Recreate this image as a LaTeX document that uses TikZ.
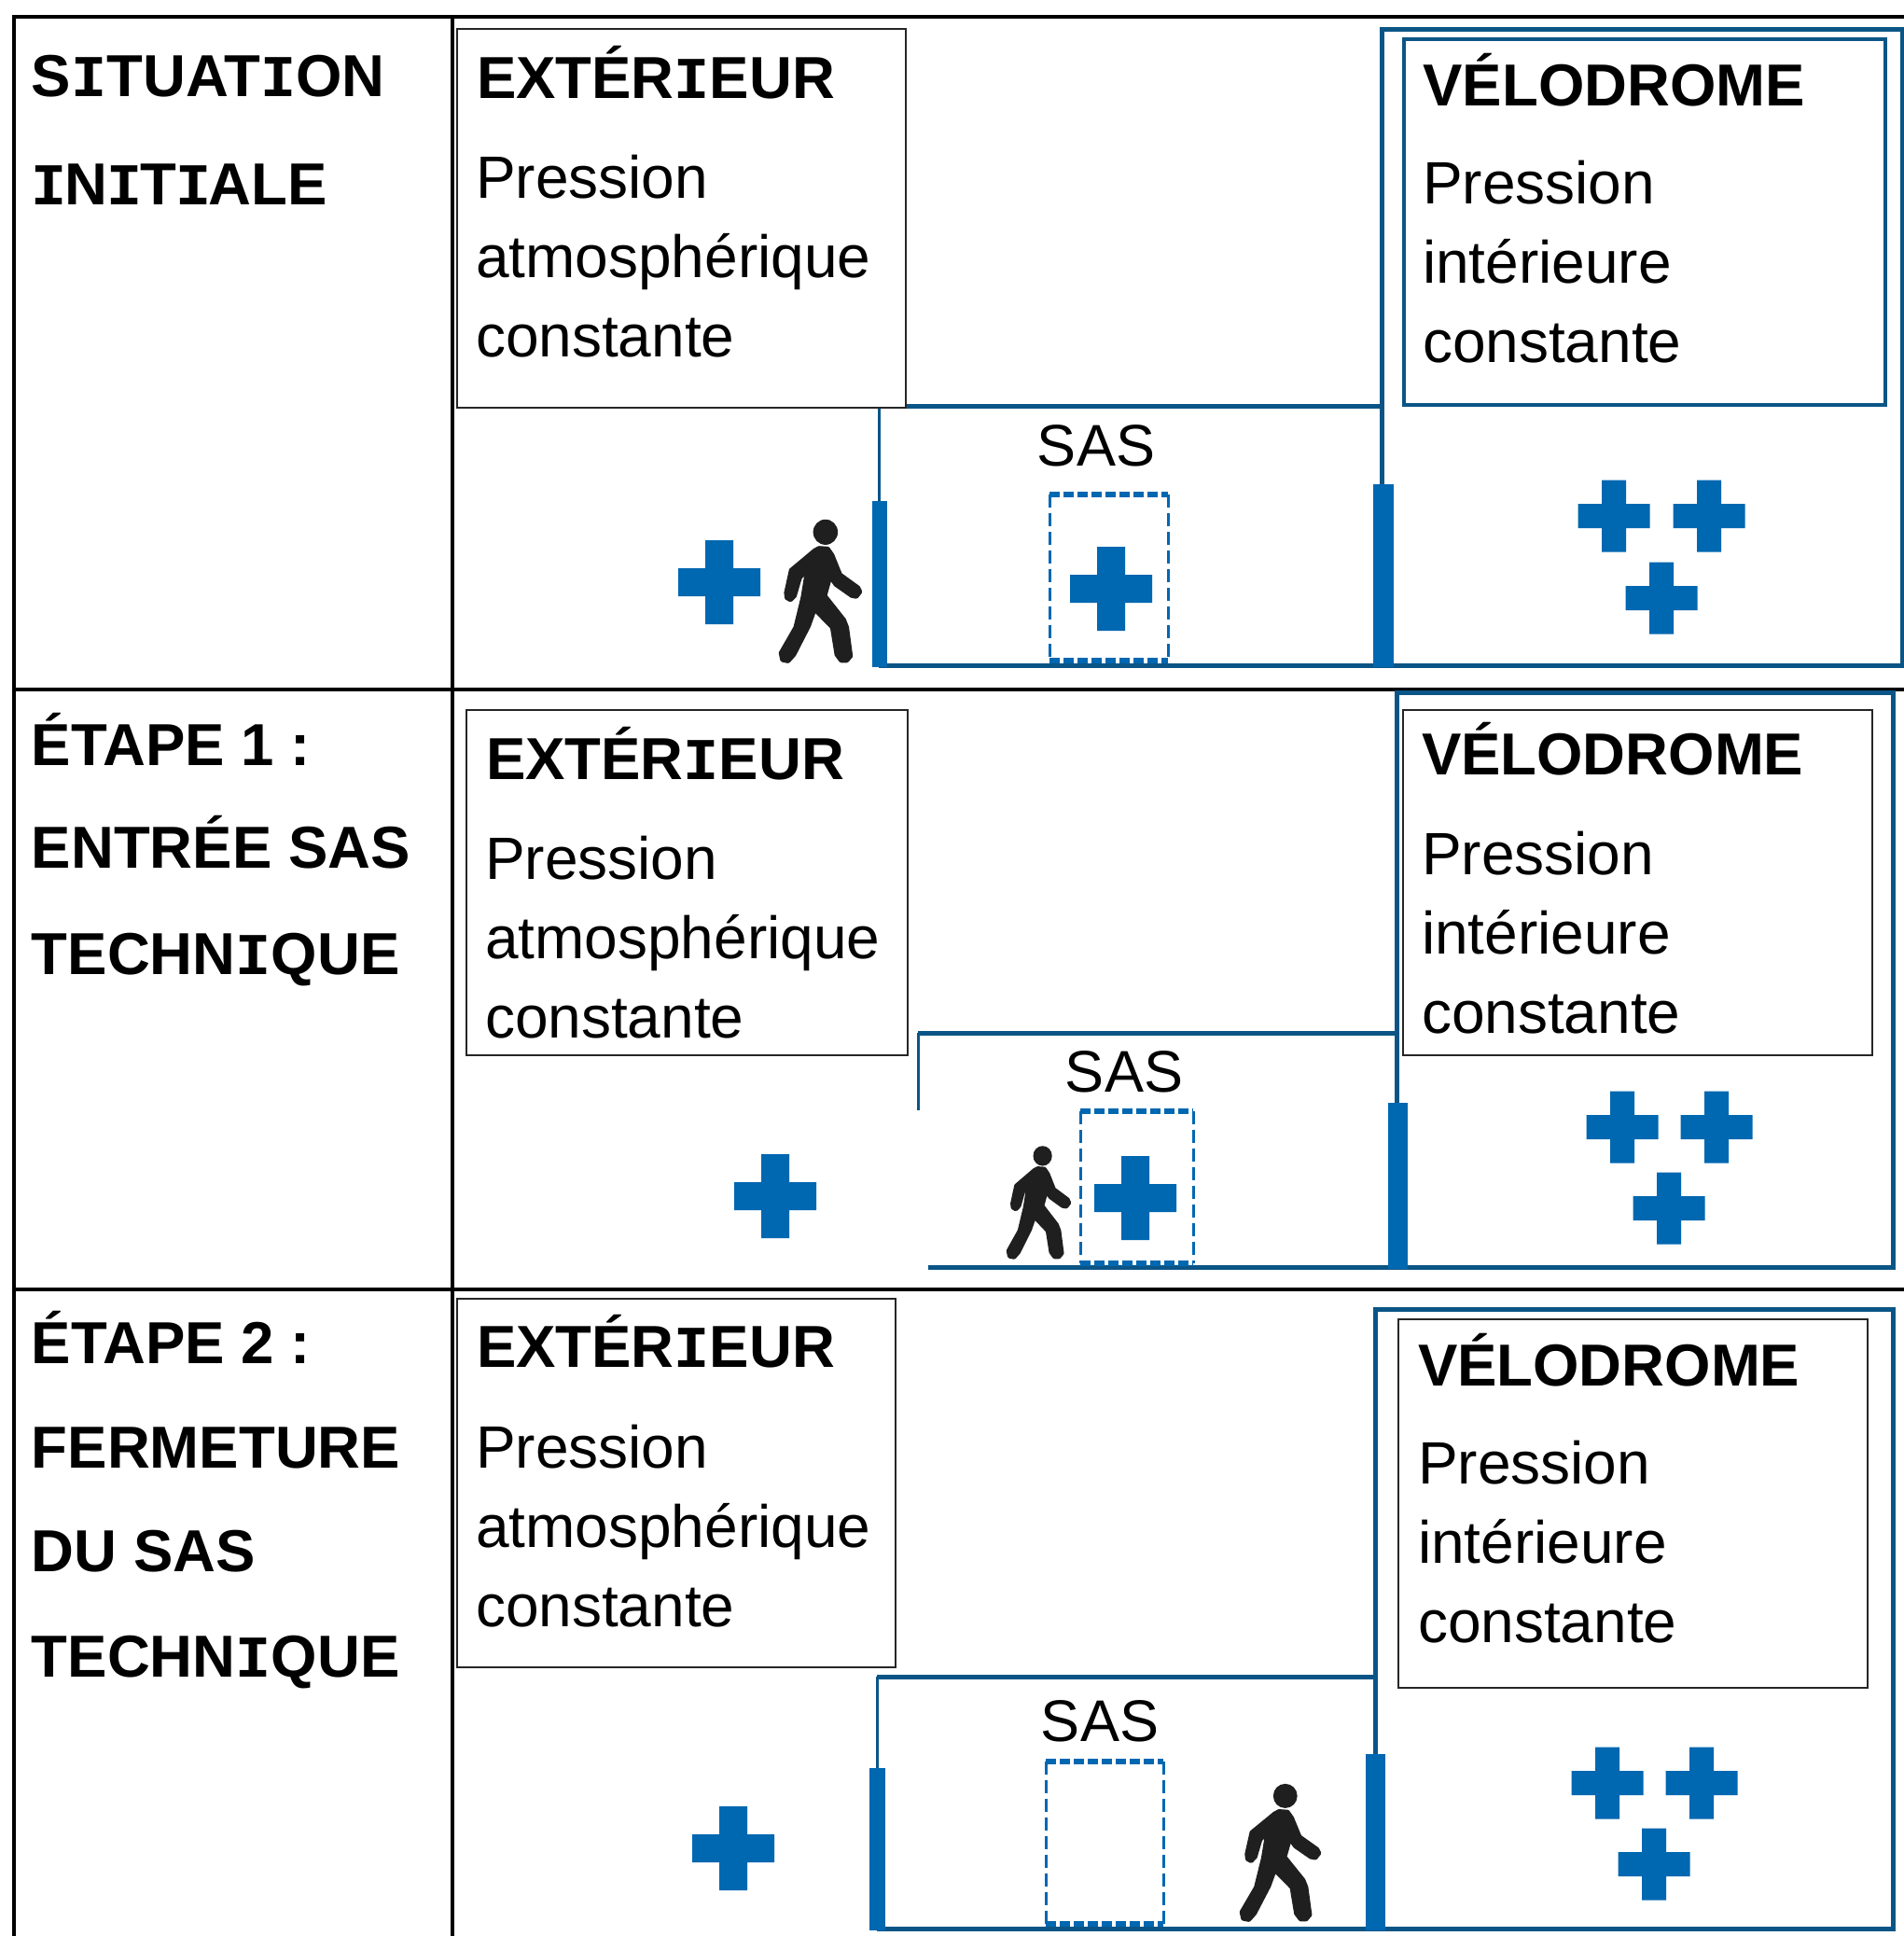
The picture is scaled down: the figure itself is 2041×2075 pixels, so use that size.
\documentclass[tikz,border=0pt]{standalone}
\usepackage{fontspec}
\setmainfont{Liberation Sans}
\newfontfamily\monof{Liberation Mono}
\definecolor{doorblue}{HTML}{0067B1}
\definecolor{wallblue}{HTML}{0B5586}
\newcommand\sI{{\monof\bfseries I}}
\tikzset{
  txt/.style={inner sep=0pt,outer sep=0pt,anchor=base west,text=black},
  headtxt/.style={txt,font=\fontsize{63.5}{64}\selectfont\bfseries},
  bodytxt/.style={txt,font=\fontsize{64}{85}\selectfont},
  sastxt/.style={inner sep=0pt,outer sep=0pt,anchor=base,font=\fontsize{63}{63}\selectfont},
  grid/.style={draw=black,line width=4.5pt},
  thinbox/.style={draw=black!85,line width=2pt,fill=white,inner sep=0pt,outer sep=0pt,anchor=north west},
  wall/.style={draw=wallblue,line width=5pt},
  thinwall/.style={draw=wallblue,line width=3pt},
  door/.style={fill=doorblue},
}
\newcommand\bigcross[2]{\fill[doorblue] (#1-15,#2-45) -- (#1+15,#2-45) -- (#1+15,#2-15) -- (#1+44,#2-15) -- (#1+44,#2+15) -- (#1+15,#2+15) -- (#1+15,#2+45) -- (#1-15,#2+45) -- (#1-15,#2+15) -- (#1-44,#2+15) -- (#1-44,#2-15) -- (#1-15,#2-15) -- cycle;}
\newcommand\smallcross[2]{\fill[doorblue] (#1-13,#2-38.5) -- (#1+13,#2-38.5) -- (#1+13,#2-13) -- (#1+38.5,#2-13) -- (#1+38.5,#2+13) -- (#1+13,#2+13) -- (#1+13,#2+38.5) -- (#1-13,#2+38.5) -- (#1-13,#2+13) -- (#1-38.5,#2+13) -- (#1-38.5,#2-13) -- (#1-13,#2-13) -- cycle;}
% walker: xmin ymin width height
\newcommand\walker[4]{\begin{scope}[shift={(#1+2,#2+2)},xscale=(#3-4)/270,yscale=(#4-4)/461,shift={(-75,-49)}]
\fill[black!88] (227,84) ellipse [x radius=42,y radius=42];
\filldraw[black!88,line width=4.5pt,line join=round] (205,137) -- (235,139) -- (250,160) -- (277,225) -- (338,268) -- (345,282) -- (332,298) -- (316,295) -- (262,258) -- (243,232) -- (225,295) -- (290,375) -- (300,400) -- (313,495) -- (300,510) -- (280,510) -- (265,490) -- (250,400) -- (190,340) -- (170,395) -- (120,490) -- (100,512) -- (80,508) -- (75,485) -- (125,400) -- (150,300) -- (165,210) -- (140,235) -- (122,295) -- (108,309) -- (95,302) -- (93,285) -- (110,210) -- (190,145) -- cycle;
\end{scope}}
% dashed cell: x0 y0 x1 y1
\newcommand\dashcell[4]{
\draw[doorblue,line width=3pt,dash pattern=on 14pt off 6pt] (#1,#2) -- (#1,#4);
\draw[doorblue,line width=3pt,dash pattern=on 14pt off 6pt] (#3,#2) -- (#3,#4);
\draw[doorblue,line width=5.5pt,dash pattern=on 11pt off 4pt] (#1,#2) -- (#3,#2);
\draw[doorblue,line width=6pt,dash pattern=on 11pt off 4pt] (#1,#4) -- (#3,#4);
}
\begin{document}
\begin{tikzpicture}[x=1pt,y=-1pt]
\useasboundingbox[fill=white] (0,0) rectangle (2041,2075);

% table rules
\draw[grid] (15,2075) -- (15,18) -- (2041,18);
\draw[grid] (485,18) -- (485,2075);
\draw[grid] (15,739) -- (2041,739);
\draw[grid] (15,1382) -- (2041,1382);

% left column
\node[headtxt] (h1) at (34,103) {\vtop{\baselineskip=116pt\hbox{S\sI TUAT\sI ON}\hbox{\sI\kern-3pt N\sI\kern-3pt T\sI\kern-3pt ALE}}};
\node[headtxt] (h2) at (34,820) {\vtop{\baselineskip=112pt\hbox{ÉTAPE 1 :}\kern-2pt\hbox{ENTRÉE SAS}\kern2pt\hbox{TECHN\sI QUE}}};
\node[headtxt] (h3) at (34,1461.5) {\vtop{\baselineskip=112pt\hbox{ÉTAPE 2 :}\hbox{FERMETURE}\kern-1pt\hbox{DU SAS}\kern1pt\hbox{TECHN\sI QUE}}};

% ---- panel 1
\draw[wall] (1481,519) -- (1481,31) -- (2039,31) -- (2039,713) -- (942,713);
\draw[wall] (942,435) -- (1481,435);
\draw[thinwall] (942,435) -- (942,537);
\fill[door] (935,537) rectangle (951,715);
\fill[door] (1472,519) rectangle (1494,715);
\node[thinbox,minimum width=481pt,minimum height=406pt] (ext1) at (489.5,31) {};
\draw[draw=wallblue,line width=4pt] (1505,42) rectangle (2021,434);
\node[headtxt] (ext1t) at (511,105) {EXTÉR\sI EUR};
\node[bodytxt] (ext1b) at (510,212) {\vtop{\hbox{Pression}\hbox{atmosphérique}\hbox{constante}}};
\node[headtxt] (vel1t) at (1525.5,113) {VÉLODROME};
\node[bodytxt] (vel1b) at (1525,218.5) {\vtop{\hbox{Pression}\hbox{intérieure}\hbox{constante}}};
\node[sastxt] (sas1) at (1175,499) {SAS};
\dashcell{1125}{530}{1252}{708}
\bigcross{771}{624}
\bigcross{1191}{631}
\smallcross{1730}{553}
\smallcross{1832}{553}
\smallcross{1781}{641}
\walker{835}{557}{89}{153}

% ---- panel 2
\draw[wall] (1497,1182) -- (1497,742) -- (2029,742) -- (2029,1358) -- (995,1358);
\draw[wall] (984,1107) -- (1497,1107);
\draw[thinwall] (984,1107) -- (984,1190);
\fill[door] (1488,1182) rectangle (1509,1360);
\node[thinbox,minimum width=473pt,minimum height=370pt] (ext2) at (499.5,761) {};
\node[thinbox,minimum width=503pt,minimum height=370pt] (vel2) at (1504,761) {};
\node[headtxt] (ext2t) at (521,835) {EXTÉR\sI EUR};
\node[bodytxt] (ext2b) at (520,942) {\vtop{\hbox{Pression}\hbox{atmosphérique}\hbox{constante}}};
\node[headtxt] (vel2t) at (1524,830) {VÉLODROME};
\node[bodytxt] (vel2b) at (1524,937) {\vtop{\hbox{Pression}\hbox{intérieure}\hbox{constante}}};
\node[sastxt] (sas2) at (1205,1170.5) {SAS};
\dashcell{1158}{1191}{1279}{1354}
\bigcross{831}{1282}
\bigcross{1217}{1284}
\smallcross{1739}{1208}
\smallcross{1840}{1208}
\smallcross{1789}{1295}
\walker{1079}{1228}{69}{121}

% ---- panel 3
\draw[wall] (1474,1880) -- (1474,1403) -- (2029,1403) -- (2029,2067) -- (940,2067);
\draw[wall] (940,1797) -- (1474,1797);
\draw[thinwall] (940,1797) -- (940,1895);
\fill[door] (932,1895) rectangle (949,2069);
\fill[door] (1464,1880) rectangle (1485,2069);
\node[thinbox,minimum width=470pt,minimum height=395pt] (ext3) at (490,1392) {};
\node[thinbox,minimum width=503pt,minimum height=395pt] (vel3) at (1499,1414) {};
\node[headtxt] (ext3t) at (511,1465) {EXTÉR\sI EUR};
\node[bodytxt] (ext3b) at (510,1573) {\vtop{\hbox{Pression}\hbox{atmosphérique}\hbox{constante}}};
\node[headtxt] (vel3t) at (1520,1485) {VÉLODROME};
\node[bodytxt] (vel3b) at (1520,1590.5) {\vtop{\hbox{Pression}\hbox{intérieure}\hbox{constante}}};
\node[sastxt] (sas3) at (1179,1866) {SAS};
\dashcell{1121}{1888}{1247}{2062}
\bigcross{786}{1981}
\smallcross{1723}{1911}
\smallcross{1824}{1911}
\smallcross{1773}{1998}
\walker{1329}{1912}{87}{147}
\end{tikzpicture}
\end{document}
